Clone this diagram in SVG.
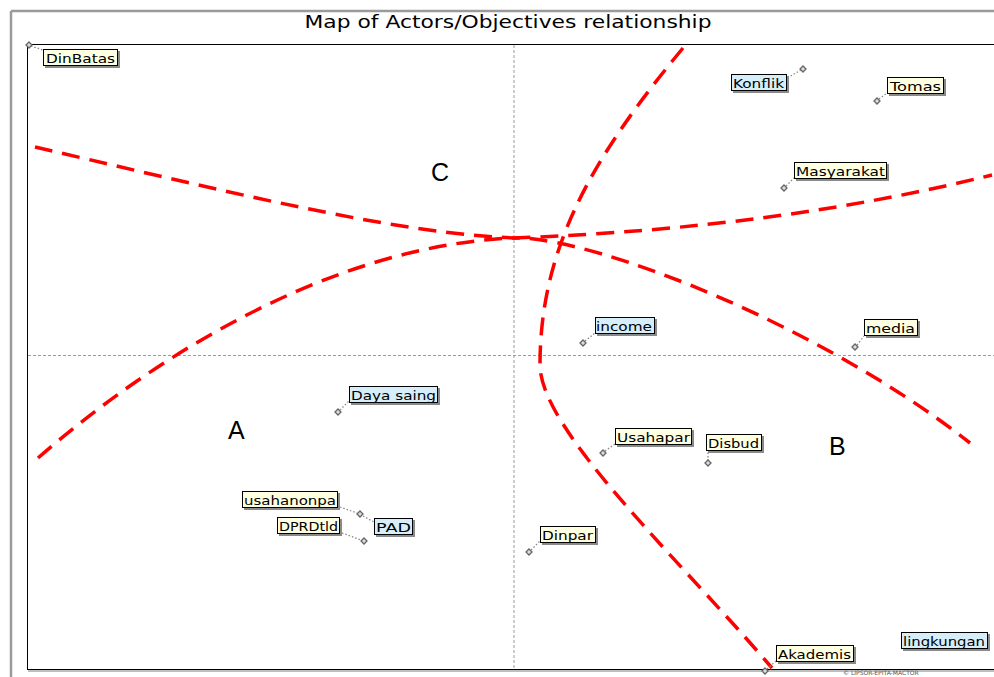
<svg xmlns="http://www.w3.org/2000/svg" width="994" height="677" viewBox="0 0 994 677">
<style>
.lbl{font-family:"DejaVu Sans","Liberation Sans",sans-serif;font-size:13px;fill:#000}
.y{fill:#FFFFE1;stroke:#000;stroke-width:1}
.b{fill:#D5EEFA;stroke:#000;stroke-width:1}
.sh{fill:#8a8a8a}
.mk{fill:#ddd;stroke:#666;stroke-width:1.3}
.lead{stroke:#888;stroke-width:1.3;stroke-dasharray:1.5 2;fill:none}
.axis{stroke:#9a9a9a;stroke-width:1;stroke-dasharray:3 2;fill:none}
.sep{stroke:#FF0000;stroke-width:3.5;stroke-dasharray:18 10;fill:none}
.q{font-family:"Liberation Sans",Arial,sans-serif;font-size:25px;fill:#000}
</style>
<rect x="0" y="0" width="994" height="677" fill="#fff"/>
<line x1="11" y1="11" x2="994" y2="11" stroke="#9a9a9a" stroke-width="2.5"/>
<line x1="11" y1="11" x2="11" y2="677" stroke="#9a9a9a" stroke-width="2.5"/>
<text x="508" y="28" text-anchor="middle" font-family="DejaVu Sans, Verdana, sans-serif" font-size="17" textLength="407" lengthAdjust="spacingAndGlyphs" fill="#000">Map of Actors/Objectives relationship</text>
<line x1="28" y1="671" x2="994" y2="671" stroke="#aaa" stroke-width="1.5"/>
<rect x="27.5" y="44.5" width="980" height="625" fill="none" stroke="#000" stroke-width="1"/>
<line class="axis" x1="514" y1="45" x2="514" y2="669"/>
<line class="axis" x1="28" y1="355.5" x2="994" y2="355.5"/>
<g id="separators">
<path class="sep" d="M38,458 C150,360 330,245 514,238 S850,210 992,175"/>
<path class="sep" d="M35,147 C200,185 400,236 520,238 C600,240 820,325 970,443"/>
<path class="sep" d="M683,48 C590,160 540,250 540,365 C540,430 680,560 772,668"/>
</g>
<text class="q" x="431" y="181">C</text>
<text class="q" x="228" y="439">A</text>
<text class="q" x="829" y="455">B</text>
<g id="connectors">
<line class="lead" x1="31" y1="46" x2="43" y2="50"/>
<line class="lead" x1="801" y1="70" x2="789" y2="77"/>
<line class="lead" x1="879" y1="99" x2="887" y2="93"/>
<line class="lead" x1="786" y1="186" x2="794" y2="178"/>
<line class="lead" x1="585" y1="341" x2="595" y2="333"/>
<line class="lead" x1="857" y1="345" x2="864" y2="336"/>
<line class="lead" x1="340" y1="410" x2="349" y2="401"/>
<line class="lead" x1="605" y1="451" x2="615" y2="444"/>
<line class="lead" x1="708" y1="461" x2="708" y2="452"/>
<line class="lead" x1="340" y1="507" x2="357" y2="513"/>
<line class="lead" x1="363" y1="516" x2="374" y2="522"/>
<line class="lead" x1="342" y1="533" x2="361" y2="540"/>
<line class="lead" x1="531" y1="550" x2="540" y2="541"/>
<line class="lead" x1="767" y1="669" x2="776" y2="661"/>
</g>
<g id="DinBatas"><path class="mk" d="M29,42 l3,3 l-3,3 l-3,-3z"/><rect class="sh" x="45" y="51" width="75" height="17"/><rect class="y" x="43.5" y="49.5" width="74" height="16"/><text class="lbl" x="46" y="63" textLength="69" lengthAdjust="spacingAndGlyphs">DinBatas</text></g>
<g id="Konflik"><path class="mk" d="M803,66 l3,3 l-3,3 l-3,-3z"/><rect class="sh" x="733" y="76" width="56" height="17"/><rect class="b" x="731.5" y="74.5" width="55" height="16"/><text class="lbl" x="733" y="88" textLength="51" lengthAdjust="spacingAndGlyphs">Konflik</text></g>
<g id="Tomas"><path class="mk" d="M877,98 l3,3 l-3,3 l-3,-3z"/><rect class="sh" x="889" y="79" width="57" height="17"/><rect class="y" x="887.5" y="77.5" width="56" height="16"/><text class="lbl" x="890" y="91" textLength="51" lengthAdjust="spacingAndGlyphs">Tomas</text></g>
<g id="Masyarakat"><path class="mk" d="M784,185 l3,3 l-3,3 l-3,-3z"/><rect class="sh" x="796" y="164" width="93" height="17"/><rect class="y" x="794.5" y="162.5" width="92" height="16"/><text class="lbl" x="796" y="176" textLength="89" lengthAdjust="spacingAndGlyphs">Masyarakat</text></g>
<g id="income"><path class="mk" d="M583,340 l3,3 l-3,3 l-3,-3z"/><rect class="sh" x="597" y="319" width="60" height="17"/><rect class="b" x="595.5" y="317.5" width="59" height="16"/><text class="lbl" x="596" y="331" textLength="56" lengthAdjust="spacingAndGlyphs">income</text></g>
<g id="media"><path class="mk" d="M855,344 l3,3 l-3,3 l-3,-3z"/><rect class="sh" x="866" y="321" width="54" height="17"/><rect class="y" x="864.5" y="319.5" width="53" height="16"/><text class="lbl" x="866" y="333" textLength="49" lengthAdjust="spacingAndGlyphs">media</text></g>
<g id="Daya_saing"><path class="mk" d="M338,409 l3,3 l-3,3 l-3,-3z"/><rect class="sh" x="351" y="388" width="89" height="17"/><rect class="b" x="349.5" y="386.5" width="88" height="16"/><text class="lbl" x="351" y="400" textLength="85" lengthAdjust="spacingAndGlyphs">Daya saing</text></g>
<g id="Usahapar"><path class="mk" d="M603,450 l3,3 l-3,3 l-3,-3z"/><rect class="sh" x="617" y="430" width="77" height="17"/><rect class="y" x="615.5" y="428.5" width="76" height="16"/><text class="lbl" x="617" y="442" textLength="73" lengthAdjust="spacingAndGlyphs">Usahapar</text></g>
<g id="Disbud"><path class="mk" d="M708,460 l3,3 l-3,3 l-3,-3z"/><rect class="sh" x="708" y="436" width="56" height="17"/><rect class="y" x="706.5" y="434.5" width="55" height="16"/><text class="lbl" x="708" y="448" textLength="51" lengthAdjust="spacingAndGlyphs">Disbud</text></g>
<g id="usahanonpa"><path class="mk" d="M360,511 l3,3 l-3,3 l-3,-3z"/><rect class="sh" x="244" y="493" width="96" height="17"/><rect class="y" x="242.5" y="491.5" width="95" height="16"/><text class="lbl" x="244" y="505" textLength="92" lengthAdjust="spacingAndGlyphs">usahanonpa</text></g>
<g id="PAD"><rect class="sh" x="376" y="520" width="39" height="17"/><rect class="b" x="374.5" y="518.5" width="38" height="16"/><text class="lbl" x="376" y="532" textLength="35" lengthAdjust="spacingAndGlyphs">PAD</text></g>
<g id="DPRDtld"><path class="mk" d="M364,538 l3,3 l-3,3 l-3,-3z"/><rect class="sh" x="279" y="519" width="63" height="17"/><rect class="y" x="277.5" y="517.5" width="62" height="16"/><text class="lbl" x="279" y="531" textLength="59" lengthAdjust="spacingAndGlyphs">DPRDtld</text></g>
<g id="Dinpar"><path class="mk" d="M529,549 l3,3 l-3,3 l-3,-3z"/><rect class="sh" x="542" y="528" width="56" height="17"/><rect class="y" x="540.5" y="526.5" width="55" height="16"/><text class="lbl" x="542" y="540" textLength="51" lengthAdjust="spacingAndGlyphs">Dinpar</text></g>
<g id="Akademis"><path class="mk" d="M765,668 l3,3 l-3,3 l-3,-3z"/><rect class="sh" x="778" y="647" width="78" height="17"/><rect class="y" x="776.5" y="645.5" width="77" height="16"/><text class="lbl" x="778" y="659" textLength="73" lengthAdjust="spacingAndGlyphs">Akademis</text></g>
<g id="lingkungan"><rect class="sh" x="903" y="634" width="87" height="17"/><rect class="b" x="901.5" y="632.5" width="86" height="16"/><text class="lbl" x="903" y="646" textLength="82" lengthAdjust="spacingAndGlyphs">lingkungan</text></g>
<text x="843" y="675" font-family="DejaVu Sans, sans-serif" font-size="6" fill="#555">© LIPSOR-EPITA-MACTOR</text>
</svg>
